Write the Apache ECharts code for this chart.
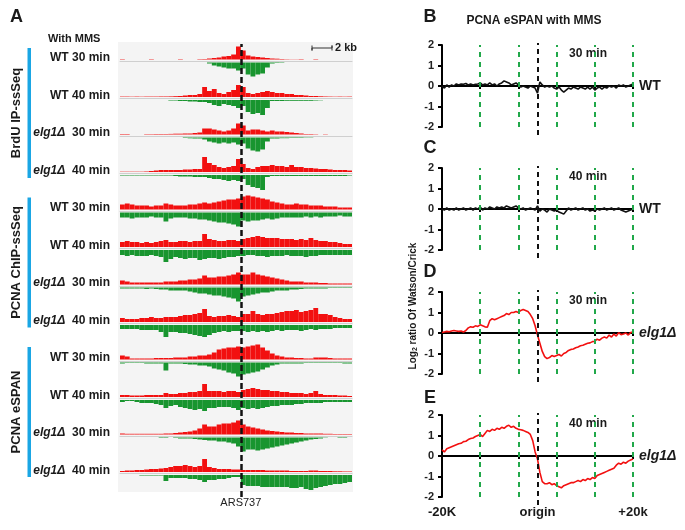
<!DOCTYPE html>
<html>
<head>
<meta charset="utf-8">
<title>PCNA eSPAN with MMS</title>
<script src="https://cdn.jsdelivr.net/npm/echarts@6/dist/echarts.min.js"></script>
<style>
  html, body { margin: 0; padding: 0; background: #fff; }
  #main { width: 685px; height: 530px; }
</style>
</head>
<body>
<div id="main"></div>
<script>
// ---- panel A: strand-specific read tracks, 48 bins across the window (~23 kb) ----
var trackGroups = ['BrdU IP-ssSeq', 'PCNA ChIP-ssSeq', 'PCNA eSPAN'];
var trackStrains = ['WT', 'WT', 'elg1Δ', 'elg1Δ'];
var trackTimes = ['30 min', '40 min', '30 min', '40 min'];
var originBin = 25;

// watson (red, up) / crick (green, down)
var brduWt30W = [0.4,0,0,0,0,0,0.4,0,0,0,0,0,0.4,0,0,0,0.4,0.5,1,1.5,2,3,3.5,5,13,9,4,3,2.5,2,1.5,1,0.8,0.5,0.3,0.2,0.2,0.4,0,0,0.4,0,0,0,0,0,0,0];
var brduWt30C = [0,0,0,0,0,0,0,0,0,0,0,0,0,0,0,0,0,0,1,3,4,5,6,6,8,6,12,14,12,11,5,1,0.5,0.4,0,0,0,0,0,0,0,0,0,0,0,0,0,0];
var brduWt40W = [0.4,0.4,0.3,0.4,0.3,0.4,0.4,0.4,0.5,0.5,0.6,0.8,1,1.5,2,2,3,10,6,8,4,3,5,7,12,10,4,3,4,5,6,5,4,4,3,3,2,2,1.5,1,1,0.7,0.5,0.4,0.3,0.4,0.3,0.4];
var brduWt40C = [0,0,0,0,0,0,0,0,0,0,0.5,0.5,1,1,1.5,1.5,2,2,3,5,6,4,5,6,8,6,12,14,13,15,8,1,1,1,0.8,0.8,0.8,0.8,0.8,0.8,0.5,0.3,0,0,0,0,0,0];
var brduElg30W = [0.5,0.5,0,0,0,0.4,0.4,0.5,0.5,0.5,0.6,0.8,0.8,1,1,1.5,2,6,6,5,4,3,4,6,11,9,4,5,5,4,3,4,3,3,2.5,2,1.5,1,0.5,0.5,0.3,0,0.3,0,0,0,0,0];
var brduElg30C = [0,0,0,0,0,0,0,0,0,0,0,0,0,0.5,0.8,1,1,2,4,5,6,5,6,5,7,6,11,13,14,12,4,1,1,0.7,0.7,0.5,0.5,0.5,0.3,0.3,0,0,0,0,0,0,0,0];
var brduElg40W = [0.3,0.3,0.3,0.3,0.3,0.5,1,1.5,2,2,2,2,2,2.5,2.5,3,3,15,9,7,5,4,5,6,13,8,4,3,5,6,6,7,6,6,5,7,5,5,4,4,3.5,3,3,2.5,2,2,2,1.5];
var brduElg40C = [0.5,0.5,0.5,0.5,0.5,0.5,0.5,0.5,0.5,0.5,0.5,1,1.5,1.5,1.5,2,2,2,3,4,4,5,6,5,6,4,10,12,13,15,2,1,1,1,1,1,1,1,1,1,1,1,1,1,1,1,1,0.5];
var chipWt30W = [5,6,5,4,4,4,3,4,4,6,5,4,4,4,5,5,6,7,6,7,8,9,10,10,11,13,14,13,12,11,10,8,7,6,5,5,6,5,5,4,4,4,3,3,3,2,2,2];
var chipWt30C = [5,5,6,5,5,5,4,5,5,9,6,5,5,5,6,6,7,7,8,9,10,10,11,12,14,8,9,8,8,7,6,7,6,5,5,5,5,5,4,5,4,5,4,4,4,3,4,4];
var chipWt40W = [5,6,5,5,4,5,4,5,6,7,5,5,6,6,5,6,6,13,8,7,6,6,7,7,6,8,9,10,11,10,9,9,9,8,8,8,7,8,7,9,7,6,6,5,5,4,3,3];
var chipWt40C = [5,6,5,6,6,6,5,6,7,12,9,7,8,9,8,8,10,9,8,8,9,8,7,7,6,6,5,5,6,6,7,6,6,6,5,6,6,6,7,6,6,5,5,5,5,5,5,5];
var chipElg30W = [4,3,2,2,2,2,2,2,2,3,3,3,4,4,5,5,6,9,7,7,8,8,9,10,12,10,10,12,10,9,8,7,6,5,4,3,3,3,2,2,2,1.5,1.5,1,1,1,1,1];
var chipElg30C = [1,1,1,1,1,1.5,1,1.5,2,2,3,3,3,3,4,5,6,6,7,8,8,9,10,11,14,9,8,7,6,5,5,4,3,3,3,2,2,1.5,1,1,1,1,1,0.5,0.5,0.5,0.5,0.5];
var chipElg40W = [4,3,3,3,4,4,5,4,4,5,5,5,6,7,7,8,9,13,6,5,6,6,7,6,5,8,8,11,8,7,8,8,9,10,11,11,12,10,11,12,14,8,8,7,5,4,3,3];
var chipElg40C = [4,4,4,4,5,5,5,5,7,12,7,7,8,8,9,10,11,12,10,8,7,6,7,6,6,6,7,6,7,6,7,6,5,6,5,5,5,6,5,4,5,4,4,4,3,3,3,3];
var espanWt30W = [4,3,1,1,1,1,1,1.5,1.5,1.5,1.5,2,2,2,3,3,4,4,5,7,10,11,12,12,13,12,13,14,15,12,9,6,4,3,2,2,1.5,1.5,1,1,2,2,2,1.5,1,1,1,1];
var espanWt30C = [1,0.5,0.5,0.5,0.5,1,1,1,1,8,1,1,1,1.5,2,2,3,3,4,6,7,8,10,11,14,12,11,10,9,7,5,3,2,1,1,1,1,1,0.5,0.5,0.5,0.5,0.5,0.5,0.5,0.5,1,1];
var espanWt40W = [2,2,1.5,1.5,1.5,2,2,2,2,4,3,3,4,4,5,5,6,13,6,6,6,5,6,6,5,7,8,9,8,7,7,6,6,5,5,4,4,4,3,4,6,3,2,2,2,1.5,1.5,1];
var espanWt40C = [2,1,1,2,3,3,3,4,5,8,6,5,7,8,9,10,9,11,8,8,7,7,7,8,10,8,9,8,9,8,7,6,6,5,5,5,4,4,3,3,3,3,2,2,2,2,2,2];
var espanElg30W = [1,0.7,0.7,0.7,0.7,0.7,0.7,0.7,0.7,1,1,1.5,2,2.5,3,4,6,10,8,8,10,11,11,12,14,10,8,7,6,5,4,3.5,3,2.5,2,2,1.5,1.5,1,1,1,1,0.7,0.7,0.5,0.5,0.5,0.5];
var espanElg30C = [0,0,0,0,0,0,0,0,0.5,0.5,0,0.5,1,1,1,1.5,2,2.5,3,3,4,4,5,6,9,14,12,12,13,12,11,10,9,8,7,6,5,4,3,2,1.5,1,0.3,0,0,0.5,0.5,0];
var espanElg40W = [1,1.5,1.5,2,2,2.5,3,3,3.5,4,5,6,6,7,6,5,6,13,5,4,3,3,3,2.5,2.5,2,2,2,2,2,1.5,1.5,1.5,1.5,1.5,1,1,1,1,1.5,1.5,1,1,1,0.7,0.7,0.5,0.5];
var espanElg40C = [0,0,0,0,0.5,0.5,0.5,0.5,0.5,6,3,3,3,3,4,4,5,7,5,5,4,4,3,2,2,10,11,11,11,12,12,12,12,12,12,13,13,12,14,15,13,12,11,10,9,9,8,7];

var watsonTracks = [brduWt30W, brduWt40W, brduElg30W, brduElg40W,
                    chipWt30W, chipWt40W, chipElg30W, chipElg40W,
                    espanWt30W, espanWt40W, espanElg30W, espanElg40W];
var crickTracks = [brduWt30C, brduWt40C, brduElg30C, brduElg40C,
                   chipWt30C, chipWt40C, chipElg30C, chipElg40C,
                   espanWt30C, espanWt40C, espanElg30C, espanElg40C];

// ---- panels B-E: log2 Watson/Crick, -20 kb .. +20 kb every 0.5 kb ----
var profileStartKb = -20, profileStepKb = 0.5;
var guideKb = [-12, -4, 4, 12, 20];
var xEndLabels = ['-20K', 'origin', '+20k'];
var yTicks = [-2, -1, 0, 1, 2];

var wt30 = [0.0,-0.1,0.05,-0.05,0.05,0.0,0.1,0.05,0.1,0.08,
  0.12,0.05,0.1,0.05,0.08,0.1,0.15,0.05,0.1,0.05,
  0.15,0.05,0.1,0.0,0.1,0.15,0.25,0.2,0.15,0.05,
  0.1,0.15,0.05,-0.05,0.0,-0.05,-0.1,0.0,-0.05,-0.1,
  -0.35,
  0.2,0.05,-0.05,0.0,-0.05,0.0,-0.1,-0.15,-0.05,-0.2,
  -0.3,-0.2,-0.1,-0.15,-0.05,-0.1,-0.15,-0.05,-0.1,-0.15,
  -0.05,-0.15,-0.05,-0.2,-0.1,-0.05,-0.15,-0.05,-0.1,0.0,
  -0.05,0.0,-0.1,0.05,0.0,0.05,-0.05,0.0,0.05,0.1];
var wt40 = [0.0,-0.05,0.05,-0.05,0.0,-0.05,0.05,-0.05,0.0,0.05,
  -0.05,0.0,0.05,-0.05,0.05,0.0,0.1,-0.05,0.05,0.0,
  0.1,0.05,0.0,0.1,0.05,0.1,0.05,0.15,0.1,0.05,
  0.1,0.15,0.05,0.0,0.05,-0.05,0.0,0.05,0.0,-0.05,
  0.15,
  -0.1,0.0,-0.05,-0.15,0.0,-0.05,-0.1,-0.05,-0.15,-0.2,
  -0.25,-0.1,0.05,-0.05,0.0,0.05,-0.05,0.0,0.05,-0.05,
  0.0,-0.1,-0.05,-0.1,0.0,-0.05,0.0,0.05,-0.05,0.0,
  0.05,-0.05,0.0,0.05,-0.05,-0.1,-0.15,-0.1,-0.05,0.0];
var elg30 = [0.02,0.05,0.08,0.06,0.1,0.12,0.1,0.08,0.1,0.05,
  0.12,0.25,0.3,0.28,0.35,0.32,0.4,0.35,0.3,0.28,
  0.6,0.7,0.65,0.7,0.75,0.8,0.85,0.95,0.9,1.0,
  1.0,1.05,1.0,1.1,1.15,1.1,1.05,0.9,0.7,0.35,
  -0.1,
  -0.5,-0.9,-1.15,-1.25,-1.2,-1.1,-1.15,-1.1,-1.05,-1.12,
  -1.0,-0.95,-0.85,-0.8,-0.78,-0.72,-0.68,-0.62,-0.6,-0.55,
  -0.5,-0.48,-0.42,-0.4,-0.3,-0.35,-0.25,-0.2,-0.25,-0.1,
  -0.2,-0.05,-0.15,0.02,-0.08,-0.05,0.0,-0.1,0.02,0.05];
var elg40 = [0.3,0.2,0.35,0.4,0.45,0.5,0.55,0.6,0.62,0.7,
  0.72,0.8,0.85,0.88,0.95,1.0,1.05,0.95,1.1,1.25,
  1.2,1.3,1.25,1.35,1.3,1.4,1.35,1.45,1.5,1.4,
  1.45,1.35,1.3,1.28,1.25,1.2,1.15,1.05,0.75,0.2,
  -0.15,
  -0.8,-1.25,-1.35,-1.35,-1.3,-1.4,-1.35,-1.45,-1.5,-1.55,
  -1.45,-1.4,-1.35,-1.3,-1.3,-1.25,-1.2,-1.25,-1.15,-1.2,
  -1.1,-1.15,-1.05,-1.1,-0.95,-0.9,-0.85,-0.8,-0.75,-0.7,
  -0.65,-0.6,-0.45,-0.35,-0.4,-0.3,-0.35,-0.25,-0.2,-0.15];

// ---- layout ----
var FONT = '"Liberation Sans", Arial, sans-serif';
var RED = '#f21010', GREEN = '#18952f', BLUE = '#1aa6e4', INK = '#1a1a1a';
var trackLeft = 120, trackWidth = 232, firstBase = 59.5, trackStep = 37.5, strandH = 16, strandGap = 3;

var chart = echarts.init(document.getElementById('main'));
var grids = [], xAxes = [], yAxes = [], series = [], graphics = [];
var bins = watsonTracks[0].map(function (v, i) { return i; });

function addGrid(g, x, y) {
    grids.push(g);
    x.gridIndex = grids.length - 1;
    y.gridIndex = grids.length - 1;
    xAxes.push(x);
    yAxes.push(y);
    return grids.length - 1;
}

graphics.push({ type: 'rect', z: 0, shape: { x: 118, y: 42, width: 235, height: 450 }, style: { fill: '#f4f4f4' } });

watsonTracks.forEach(function (w, i) {
    var base = firstBase + trackStep * i;
    var gw = addGrid({ left: trackLeft, width: trackWidth, top: base - strandH, height: strandH },
        { type: 'category', data: bins, axisLine: { show: true, onZero: false, lineStyle: { color: '#cfcfcf', width: 1 } }, offset: 1.5,
          axisTick: { show: false }, axisLabel: { show: false } },
        { type: 'value', min: 0, max: strandH, show: false });
    series.push({ type: 'bar', xAxisIndex: gw, yAxisIndex: gw, data: w, barCategoryGap: '0%', silent: true,
        itemStyle: { color: RED } });
    var gc = addGrid({ left: trackLeft, width: trackWidth, top: base + strandGap, height: strandH },
        { type: 'category', data: bins, show: false },
        { type: 'value', min: 0, max: strandH, inverse: true, show: false });
    series.push({ type: 'bar', xAxisIndex: gc, yAxisIndex: gc, data: crickTracks[i], barCategoryGap: '0%', silent: true,
        itemStyle: { color: GREEN } });

    var strain = trackStrains[i % 4], time = trackTimes[i % 4];
    graphics.push({ type: 'text', x: 110, y: base - 1.5, style: {
        text: strain === 'WT' ? '{n|' + strain + ' ' + time + '}' : '{i|' + strain + '}  {n|' + time + '}',
        align: 'right', verticalAlign: 'middle', fill: INK,
        rich: { n: { font: 'bold 12px ' + FONT, fill: INK }, i: { font: 'italic bold 12px ' + FONT, fill: INK } } } });
});

// origin dashed line across all tracks
var go = addGrid({ left: trackLeft, width: trackWidth, top: 44, height: 453 },
    { type: 'value', min: 0, max: bins.length, show: false },
    { type: 'value', min: 0, max: 1, show: false });
series.push({ type: 'line', xAxisIndex: go, yAxisIndex: go, data: [], symbol: 'none', z: 5, silent: true,
    markLine: { silent: true, symbol: 'none', data: [{ xAxis: originBin }],
        lineStyle: { color: '#111', type: [6, 3], width: 2.5 },
        label: { show: true, position: 'start', distance: 0, formatter: 'ARS737', color: '#222', fontSize: 11, fontFamily: FONT } } });

// group bars and labels
trackGroups.forEach(function (name, k) {
    var y0 = 48 + 149.5 * k, h = 130;
    graphics.push({ type: 'rect', shape: { x: 27.5, y: y0, width: 3.5, height: h }, style: { fill: BLUE } });
    graphics.push({ type: 'text', x: 16, y: y0 + h / 2, rotation: Math.PI / 2,
        style: { text: name, align: 'center', verticalAlign: 'middle', font: 'bold 13px ' + FONT, fill: INK } });
});
graphics.push({ type: 'text', x: 10, y: 17, style: { text: 'A', verticalAlign: 'middle', font: 'bold 18px ' + FONT, fill: INK } });
graphics.push({ type: 'text', x: 48, y: 39, style: { text: 'With MMS', verticalAlign: 'middle', font: 'bold 11px ' + FONT, fill: INK } });
graphics.push({ type: 'polyline', shape: { points: [[312, 45.5], [312, 50.5], [312, 48], [332, 48], [332, 45.5], [332, 50.5]] },
    style: { stroke: '#333', lineWidth: 1, fill: null } });
graphics.push({ type: 'text', x: 335, y: 48, style: { text: '2 kb', verticalAlign: 'middle', font: 'bold 11px ' + FONT, fill: INK } });

// ---- panels B-E ----
var panels = [
    { letter: 'B', letterY: 17, top: 45, values: wt30, color: '#111', time: '30 min', strain: 'WT' },
    { letter: 'C', letterY: 148, top: 168, values: wt40, color: '#111', time: '40 min', strain: 'WT' },
    { letter: 'D', letterY: 272, top: 292, values: elg30, color: RED, time: '30 min', strain: 'elg1Δ' },
    { letter: 'E', letterY: 398, top: 415, values: elg40, color: RED, time: '40 min', strain: 'elg1Δ' }
];
var pLeft = 442, pWidth = 191, pHeight = 82, span = 40;

panels.forEach(function (p, k) {
    var g = addGrid({ left: pLeft, width: pWidth, top: p.top, height: pHeight },
        { type: 'value', min: 0, max: span, interval: 8,
          axisLine: { onZero: true, lineStyle: { color: '#000', width: 2 } },
          axisTick: { show: true, length: 3, lineStyle: { color: '#000', width: 2 } },
          axisLabel: { show: false }, splitLine: { show: false } },
        { type: 'value', min: yTicks[0], max: yTicks[yTicks.length - 1], interval: 1,
          axisLine: { show: true, lineStyle: { color: '#000', width: 2 } },
          axisTick: { show: true, length: 4, lineStyle: { color: '#000', width: 2 } },
          axisLabel: { fontSize: 11, fontWeight: 'bold', color: '#222', fontFamily: FONT, margin: 8 },
          splitLine: { show: false } });
    var pts = p.values.map(function (v, i) { return [profileStepKb * i, v]; });
    series.push({ type: 'line', xAxisIndex: g, yAxisIndex: g, data: [], silent: true, z: 1,
        markLine: { silent: true, symbol: 'none', label: { show: false },
            lineStyle: { color: '#21a84a', type: [5, 5], width: 2 },
            data: guideKb.map(function (kb) { return { xAxis: kb - profileStartKb }; }) } });
    series.push({ type: 'line', xAxisIndex: g, yAxisIndex: g, data: pts, symbol: 'none', silent: true, z: 3,
        lineStyle: { color: p.color, width: 1.6 } });

    // origin marker, reaching a little below the panel
    var gz = addGrid({ left: pLeft, width: pWidth, top: p.top - 2, height: pHeight + 10 },
        { type: 'value', min: 0, max: span, show: false },
        { type: 'value', min: 0, max: 1, show: false });
    series.push({ type: 'line', xAxisIndex: gz, yAxisIndex: gz, data: [], silent: true, z: 2,
        markLine: { silent: true, symbol: 'none', label: { show: false },
            lineStyle: { color: '#111', type: [5, 4], width: 2 },
            data: [{ xAxis: -profileStartKb }] } });

    graphics.push({ type: 'text', x: 430, y: p.letterY, style: { text: p.letter, align: 'center', verticalAlign: 'middle', font: 'bold 18px ' + FONT, fill: INK } });
    graphics.push({ type: 'text', x: 569, y: p.top + 9, style: { text: p.time, verticalAlign: 'middle', font: 'bold 12px ' + FONT, fill: INK } });
    graphics.push({ type: 'text', x: 639, y: p.top + pHeight / 2, style: {
        text: p.strain, verticalAlign: 'middle', fill: INK,
        font: (p.strain === 'WT' ? 'bold 14px ' : 'italic bold 14px ') + FONT } });

    if (k === panels.length - 1) {
        xAxes.push({ gridIndex: g, type: 'value', min: 0, max: span, interval: span / 2, position: 'bottom',
            axisLine: { show: false, onZero: false }, axisTick: { show: false }, splitLine: { show: false },
            axisLabel: { fontSize: 13, fontWeight: 'bold', color: INK, fontFamily: FONT, margin: 9,
                formatter: function (v) { return xEndLabels[Math.round(v / (span / 2))]; } } });
    }
});

graphics.push({ type: 'text', x: 534, y: 21, style: { text: 'PCNA eSPAN with MMS', align: 'center', verticalAlign: 'middle', font: 'bold 12px ' + FONT, fill: INK } });
graphics.push({ type: 'text', x: 413, y: 306, rotation: Math.PI / 2, style: {
    text: '{a|Log}{s|2}{a| ratio Of Watson/Crick}', align: 'center', verticalAlign: 'middle',
    rich: { a: { font: 'bold 10px ' + FONT, fill: INK }, s: { font: 'bold 7px ' + FONT, fill: INK, padding: [4, 0, 0, 0] } } } });

chart.setOption({
    animation: false,
    backgroundColor: '#fff',
    textStyle: { fontFamily: FONT },
    grid: grids,
    xAxis: xAxes,
    yAxis: yAxes,
    series: series,
    graphic: graphics
});
</script>
</body>
</html>
